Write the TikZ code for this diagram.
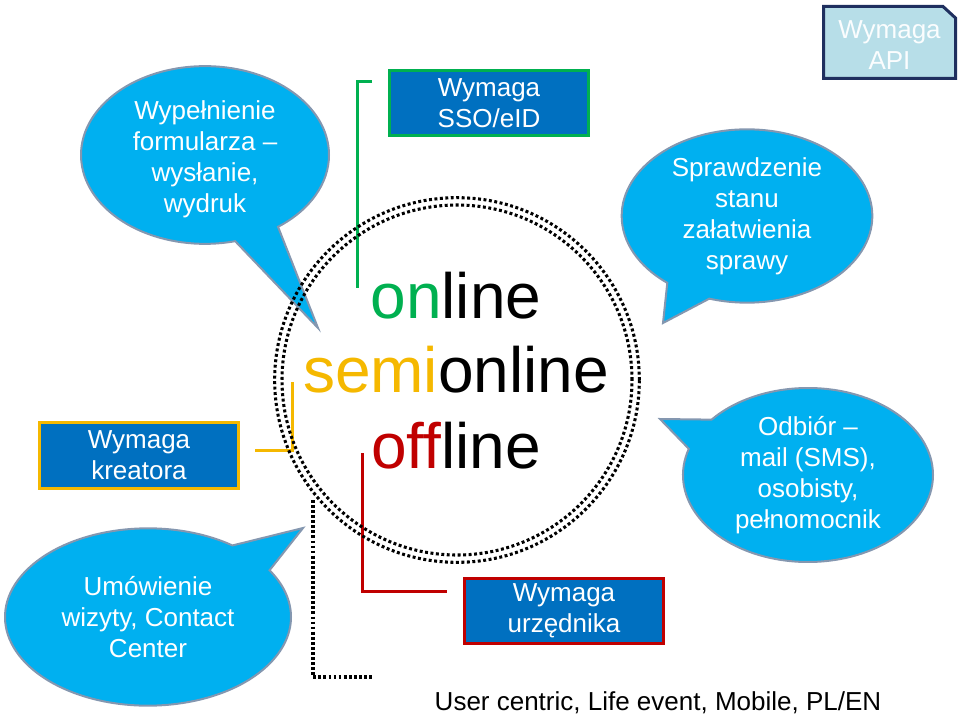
\documentclass[tikz,border=0pt]{standalone}
\usepackage{fontspec}
\setmainfont{Liberation Sans}
\usetikzlibrary{shapes.callouts,shapes.geometric}
\definecolor{bubble}{HTML}{00B0F0}
\definecolor{bubbleedge}{HTML}{8497B0}
\definecolor{boxblue}{HTML}{0070C0}
\definecolor{ssogreen}{HTML}{00B050}
\definecolor{semigold}{HTML}{F5B800}
\definecolor{offred}{HTML}{C00000}
\definecolor{apifill}{HTML}{B7DEE8}
\definecolor{apiedge}{HTML}{1F2F5F}
\begin{document}
\begin{tikzpicture}[x=0.75pt,y=-0.75pt,
  txt/.style={font=\fontsize{19.5}{23.3}\selectfont},
  bubblenode/.style={ellipse callout, fill=bubble, draw=bubbleedge, line width=1.5pt,
     text=white, align=center, inner sep=0pt, callout pointer arc=22, txt},
  reqbox/.style={rectangle, fill=boxblue, line width=2.25pt, text=white, align=center,
     inner sep=0pt, minimum width=149pt, minimum height=49pt, txt},
  bracket/.style={line width=2.25pt},
  bigword/.style={font=\fontsize{48}{56}\selectfont, anchor=base},
  dotring/.style={line width=2.3pt, dash pattern=on 2.2pt off 1.9pt},
  dotline/.style={line width=2.3pt, dash pattern=on 2.1pt off 1.7pt}
]
\useasboundingbox (0,0) rectangle (960,717);

% callouts
\node[bubblenode, minimum width=186pt, minimum height=130.5pt,
      callout absolute pointer={(318,328)}] (fill) at (205,155)
      {\\[-3pt]Wypełnienie\\formularza –\\wysłanie,\\wydruk};
\node[bubblenode, minimum width=188pt, minimum height=130pt,
      callout absolute pointer={(663,323)}] (check) at (747,216)
      {Sprawdzenie\\stanu\\załatwienia\\sprawy};
\node[bubblenode, minimum width=187.5pt, minimum height=130.5pt,
      callout absolute pointer={(660,419)}] (pickup) at (808,475)
      {Odbiór –\\mail (SMS),\\osobisty,\\pełnomocnik};
\node[bubblenode, minimum width=214.5pt, minimum height=133pt,
      callout absolute pointer={(303,528)}] (visit) at (148,617)
      {Umówienie\\wizyty, Contact\\Center};

% requirement boxes
\node[reqbox, draw=ssogreen] (sso) at (489,103) {Wymaga\\SSO/eID};
\node[reqbox, draw=semigold] (kreator) at (139,455.5) {Wymaga\\kreatora};
\node[reqbox, draw=offred] (urz) at (564,611) {Wymaga\\urzędnika};

% API box with cut corner
\draw[fill=apifill, draw=apiedge, line width=2.25pt]
  (823.5,6.5) -- (943,6.5) -- (955.5,18) -- (955.5,78.5) -- (823.5,78.5) -- cycle;
\node[txt, text=white!95!apifill, align=center] (api) at (889.5,45) {Wymaga\\API};

% brackets
\coordinate (gA) at (372,82);
\coordinate (gB) at (357,82);
\coordinate (gC) at (357,288);
\coordinate (yA) at (292,382);
\coordinate (yB) at (292,450);
\coordinate (yC) at (255,450);
\coordinate (rA) at (362,453);
\coordinate (rB) at (362,591);
\coordinate (rC) at (447,591);
\coordinate (kA) at (313,500);
\coordinate (kB) at (313,677);
\coordinate (kC) at (372,677);
\draw[bracket, ssogreen] (gA) -- (gB) -- (gC);
\draw[bracket, semigold] (yA) -- (yB) -- (yC);
\draw[bracket, offred] (rA) -- (rB) -- (rC);
\draw[dotline] (kA) -- (kB) -- (kC);

% double dotted circle
\coordinate (ctr) at (457,380);
\draw[dotring] (ctr) circle[radius=131.25pt];
\draw[dotring] (ctr) circle[radius=136.75pt];

% central words
\node[bigword] (online) at (456,318) {\textcolor{ssogreen}{on}line};
\node[bigword] (semionline) at (456,392) {\textcolor{semigold}{semi}online};
\node[bigword] (offline) at (456,468) {\textcolor{offred}{off}line};

% bottom caption
\node[txt, anchor=base] (caption) at (658,710) {User centric, Life event, Mobile, PL/EN};
\end{tikzpicture}
\end{document}
